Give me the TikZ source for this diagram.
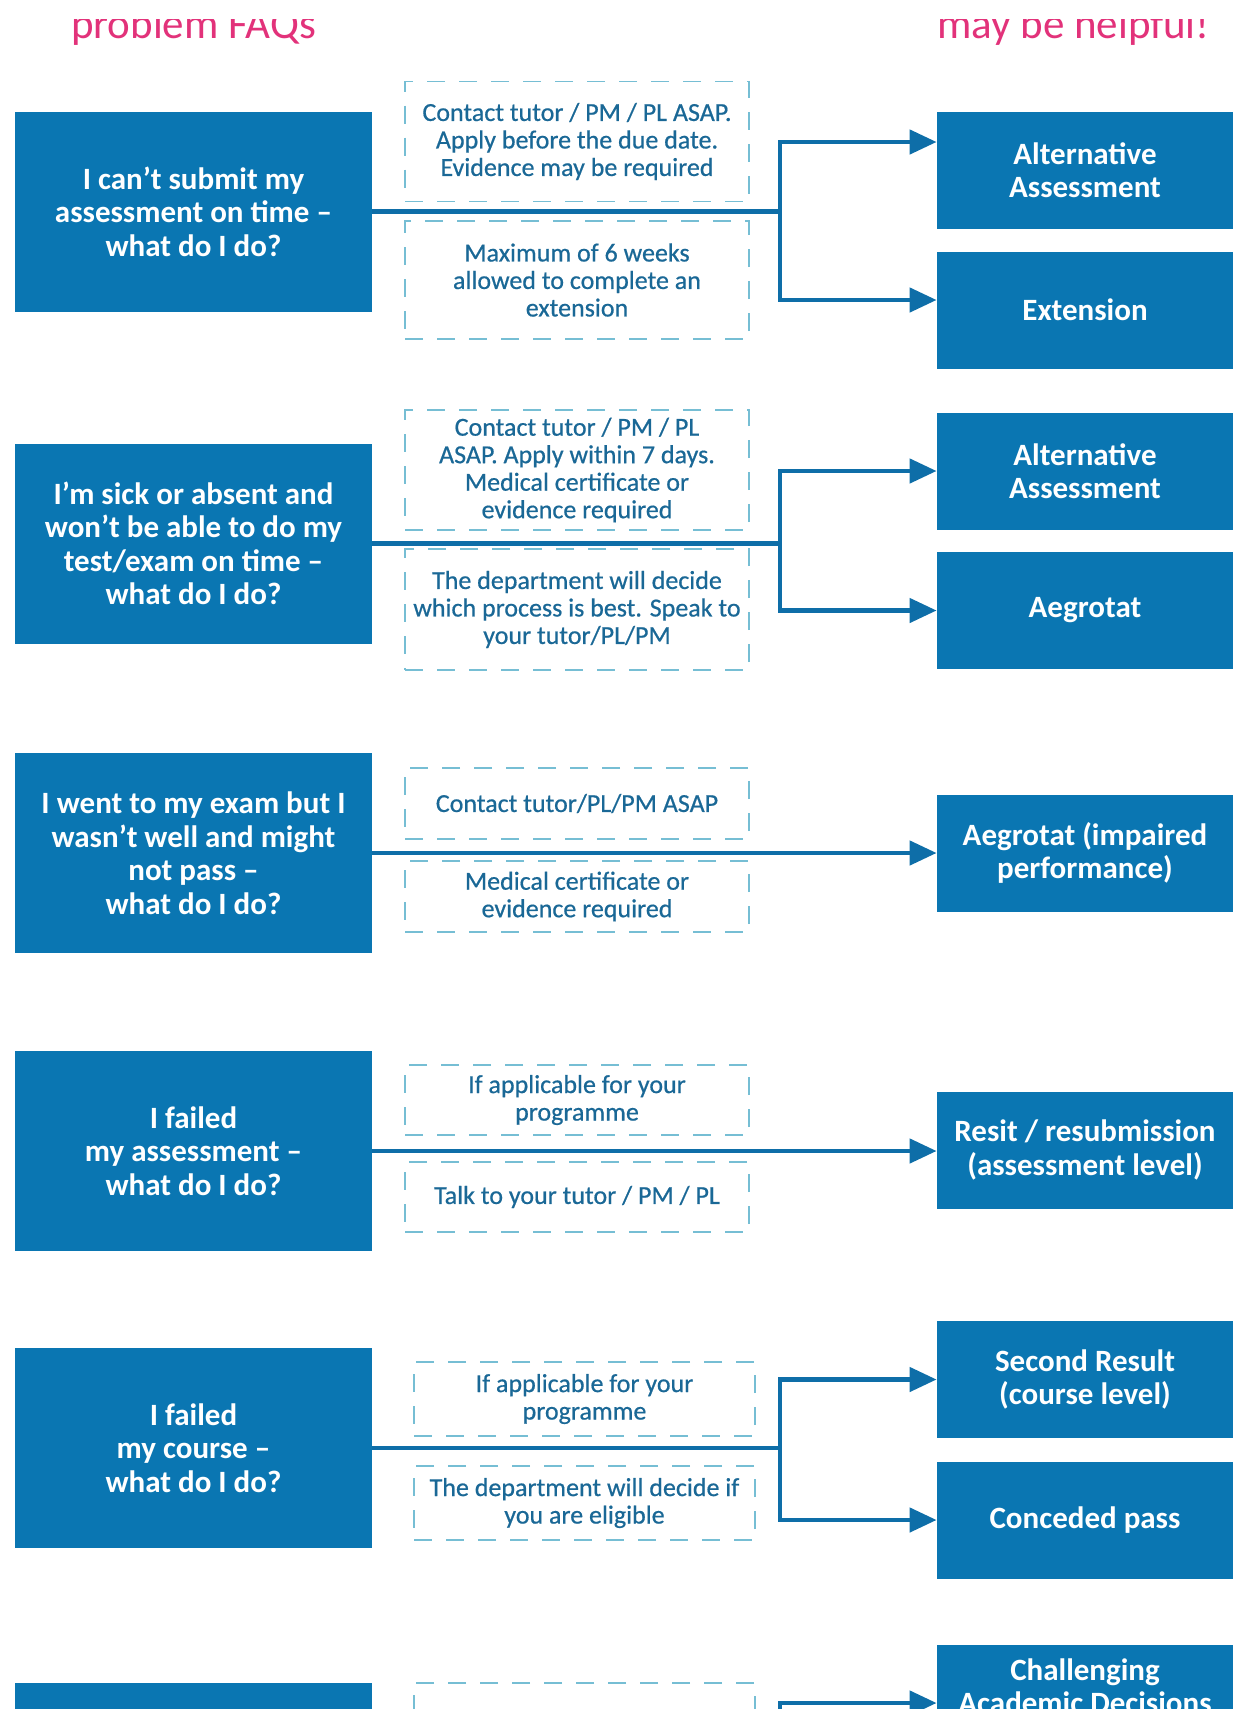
\documentclass[tikz,border=0pt]{standalone}
\usepackage{fontspec}
\setmainfont{Carlito}
\usepackage{tikz}
\usetikzlibrary{arrows.meta}
\definecolor{boxblue}{RGB}{10,118,178}
\definecolor{lineblue}{RGB}{14,110,168}
\definecolor{dashblue}{RGB}{118,190,212}
\definecolor{noteblue}{RGB}{26,104,150}
\definecolor{headpink}{RGB}{226,50,122}
\tikzset{
  heading/.style={text=headpink, font=\fontsize{21.5}{24}\selectfont, inner sep=0pt},
  askbox/.style={fill=boxblue, text=white, font=\bfseries\fontsize{15.5}{16.75}\selectfont, align=center, minimum width=178.5pt, minimum height=100pt, inner sep=0pt},
  optbox/.style={fill=boxblue, text=white, font=\bfseries\fontsize{15.5}{16.75}\selectfont, align=center, minimum width=148pt, minimum height=58.5pt, inner sep=0pt},
  notebox/.style={draw=dashblue, line width=0.9pt, dash pattern=on 9pt off 7pt, text=noteblue, font=\addfontfeature{FakeBold=0.6}\fontsize{13}{13.75}\selectfont, align=center, minimum width=172pt, inner sep=0pt},
  flow/.style={draw=lineblue, line width=2.3pt},
  flowarrow/.style={flow, -{Triangle[length=13.5pt,width=12pt]}}
}

\begin{document}
\begin{tikzpicture}[x=0.5pt,y=-0.5pt]
    \useasboundingbox (0,0) rectangle (1239,1709);
    \clip (0,0) rectangle (1239,1709);
    % headings (cut at the top)
    \begin{scope}
        \clip (0,19) rectangle (1239,1709);
        \node[heading, anchor=base] (hleft) at (193.5,38) {problem FAQs};
        \node[heading, anchor=base] (hright) at (1073.5,38) {may be helpful!};
    \end{scope}
    % row1
    \node[askbox] (q1) at (193.5,211.5) {I can’t submit my\\assessment on time –\\what do I do?};
    \node[notebox, minimum height=60pt] (n1a) at (577,141.5) {Contact tutor / PM / PL ASAP.\\Apply before the due date.\\Evidence may be required};
    \node[notebox, minimum height=59pt] (n1b) at (577,280) {Maximum of 6 weeks\\allowed to complete an\\extension};
    \node[optbox] (o1a) at (1085,170) {Alternative\\Assessment};
    \node[optbox] (o1b) at (1085,310) {Extension};
    \coordinate (s1) at (780,211.5);
    \draw[flow] (q1.east) -- (s1);
    \draw[flowarrow] (s1) |- ([yshift=14pt]o1a.west);
    \draw[flowarrow] (s1) |- ([yshift=5pt]o1b.west);
    % row2
    \node[askbox] (q2) at (193.5,543.5) {I’m sick or absent and\\won’t be able to do my\\test/exam on time –\\what do I do?};
    \node[notebox, minimum height=60pt] (n2a) at (577,470) {Contact tutor / PM / PL\\ASAP. Apply within 7 days.\\Medical certificate or\\evidence required};
    \node[notebox, minimum height=60.5pt] (n2b) at (577,609.5) {The department will decide\\which process is best. Speak to\\your tutor/PL/PM};
    \node[optbox] (o2a) at (1085,471) {Alternative\\Assessment};
    \node[optbox] (o2b) at (1085,610.5) {Aegrotat};
    \coordinate (s2) at (780,543.5);
    \draw[flow] (q2.east) -- (s2);
    \draw[flowarrow] (s2) |- (o2a.west);
    \draw[flowarrow] (s2) |- (o2b.west);
    % row3
    \node[askbox] (q3) at (193.5,853) {I went to my exam but I\\wasn’t well and might\\not pass –\\what do I do?};
    \node[notebox, minimum height=35.5pt] (n3a) at (577,803.5) {Contact tutor/PL/PM ASAP};
    \node[notebox, minimum height=35.5pt] (n3b) at (577,896.5) {Medical certificate or\\evidence required};
    \node[optbox] (o3) at (1085,853) {Aegrotat (impaired\\performance)};
    \draw[flowarrow] (q3.east) -- (o3.west);
    % row4
    \node[askbox] (q4) at (193.5,1151) {I failed\\my assessment –\\what do I do?};
    \node[notebox, minimum height=35pt] (n4a) at (577,1100) {If applicable for your\\programme};
    \node[notebox, minimum height=35pt] (n4b) at (577,1197) {Talk to your tutor / PM / PL};
    \node[optbox] (o4) at (1085,1150) {Resit / resubmission\\(assessment level)};
    \draw[flowarrow] (q4.east) -- (q4.east -| o4.west);
    % row5
    \node[askbox] (q5) at (193.5,1448) {I failed\\my course –\\what do I do?};
    \node[notebox, minimum width=170.5pt, minimum height=37pt] (n5a) at (584.5,1399) {If applicable for your\\programme};
    \node[notebox, minimum width=170.5pt, minimum height=37pt] (n5b) at (584.5,1503) {The department will decide if\\you are eligible};
    \node[optbox] (o5a) at (1085,1379.5) {Second Result\\(course level)};
    \node[optbox] (o5b) at (1085,1520) {Conceded pass};
    \coordinate (s5) at (780,1448);
    \draw[flow] (q5.east) -- (s5);
    \draw[flowarrow] (s5) |- (o5a.west);
    \draw[flowarrow] (s5) |- (o5b.west);
    % row6 (cut at the bottom)
    \node[askbox] (q6) at (193.5,1783) {};
    \node[notebox, minimum width=170.5pt, minimum height=37pt] (n6a) at (584.5,1720) {};
    \node[optbox] (o6) at (1085,1703) {Challenging\\Academic Decisions\\\mbox{}};
    \coordinate (s6) at (780,1783);
    \draw[flow] (q6.east) -- (s6);
    \draw[flowarrow] (s6) |- (o6.west);
\end{tikzpicture}
\end{document}
